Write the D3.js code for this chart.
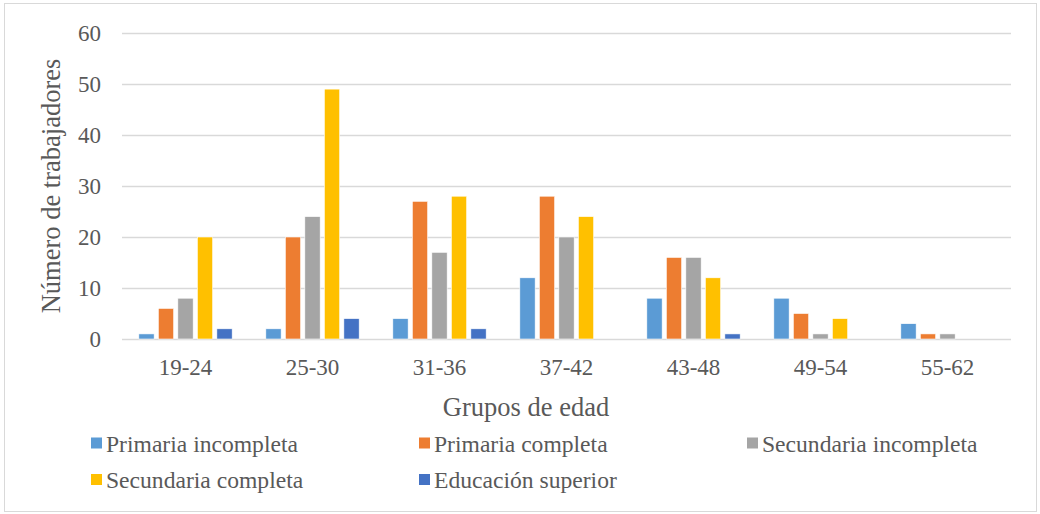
<!DOCTYPE html>
<html><head><meta charset="utf-8">
<script src="https://cdn.jsdelivr.net/npm/d3@7"></script>
<style>body{margin:0;background:#fff}svg{display:block}</style>
</head><body><svg id="c" width="1040" height="514"></svg>
<script>
const categories = ["19-24","25-30","31-36","37-42","43-48","49-54","55-62"];
const seriesNames = ["Primaria incompleta","Primaria completa","Secundaria incompleta","Secundaria completa","Educación superior"];
const primariaIncompleta = [1,2,4,12,8,8,3];
const primariaCompleta = [6,20,27,28,16,5,1];
const secundariaIncompleta = [8,24,17,20,16,1,1];
const secundariaCompleta = [20,49,28,24,12,4,0];
const educacionSuperior = [2,4,2,0,1,0,0];
const yTicks = [0,10,20,30,40,50,60];
const colors = ["#5B9BD5","#ED7D31","#A5A5A5","#FFC000","#4472C4"];
const seriesValues = [primariaIncompleta,primariaCompleta,secundariaIncompleta,secundariaCompleta,educacionSuperior];
const FONT = "'Liberation Serif', 'Times New Roman', Times, serif";

const svg = d3.select("#c");
svg.append("rect").attr("x",4.5).attr("y",3.5).attr("width",1032).attr("height",508)
  .attr("fill","#fff").attr("stroke","#D9D9D9");

const L=122,R=1011,T=33,B=339;
const x0 = d3.scaleBand().domain(categories).range([L,R]).paddingInner(0.232).paddingOuter(0.116);
const x1 = d3.scaleBand().domain(seriesNames).range([0,x0.bandwidth()]).paddingInner(0.215).paddingOuter(0.1075);
const y = d3.scaleLinear().domain([0,60]).range([B,T]);

// gridlines
const yAxis = d3.axisLeft(y).tickValues(yTicks).tickSize(-(R-L)).tickPadding(20);
const gy = svg.append("g").attr("transform",`translate(${L},0)`).call(yAxis);
gy.attr("font-family",null).attr("font-size",null);
gy.select(".domain").remove();
gy.selectAll("line").attr("stroke","#D9D9D9").attr("stroke-width",1.3);
gy.selectAll("text").style("font-family",FONT).style("font-size","23px").attr("fill","#595959").attr("dy","0.32em").attr("x",-21);

// bars
const g = svg.append("g");
categories.forEach((c,ci)=>{
  seriesNames.forEach((s,si)=>{
    const v = seriesValues[si][ci];
    if(v<=0) return;
    g.append("rect").attr("x",x0(c)+x1(s)).attr("y",y(v)).attr("width",x1.bandwidth())
      .attr("height",y(0)-y(v)).attr("fill",colors[si]).attr("stroke","#fff").attr("stroke-width",0.6);
  });
});

// x axis
const xAxis = d3.axisBottom(x0).tickSize(0).tickPadding(0);
const gx = svg.append("g").attr("transform",`translate(0,${B})`).call(xAxis);
gx.attr("font-family",null).attr("font-size",null);
gx.select(".domain").remove();
gx.selectAll("text").style("font-family",FONT).style("font-size","23px").attr("fill","#595959").attr("dy",null).attr("y",36);

// titles
svg.append("text").attr("x",526).attr("y",416).attr("text-anchor","middle")
  .style("font-family",FONT).style("font-size","26.5px").attr("fill","#595959").text("Grupos de edad");
svg.append("text").attr("transform","translate(60,186) rotate(-90)").attr("text-anchor","middle")
  .style("font-family",FONT).style("font-size","26.5px").attr("fill","#595959").text("Número de trabajadores");

// legend
const legPos = [[91,451.5],[419,451.5],[747,451.5],[91,488],[419,488]];
seriesNames.forEach((s,i)=>{
  const [lx,ly]=legPos[i];
  svg.append("rect").attr("x",lx).attr("y",ly-14).attr("width",11).attr("height",11).attr("fill",colors[i]);
  svg.append("text").attr("x",lx+15).attr("y",ly).style("font-family",FONT).style("font-size","23.6px")
    .attr("fill","#595959").text(s);
});
</script></body></html>
